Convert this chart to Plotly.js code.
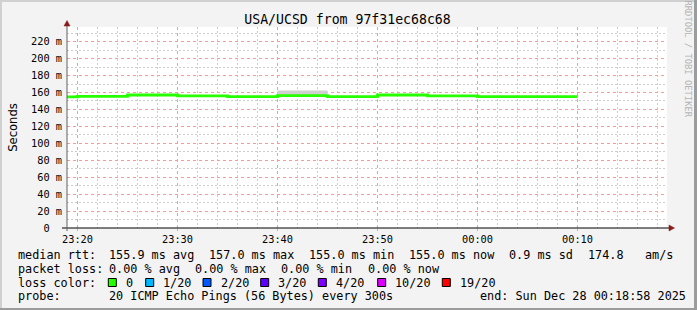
<!DOCTYPE html>
<html>
<head>
<meta charset="utf-8">
<script src="https://cdn.plot.ly/plotly-3.0.1.min.js"></script>
<style>html,body{margin:0;padding:0;background:#f3f3f3;}#chart{width:697px;height:310px;}</style>
</head>
<body>
<div id="chart"></div>
<script>
// ---- data (median rtt in ms, 300 s steps; each value starts at its time) ----
const stepTimes = ["2025-12-27 23:15:00","2025-12-27 23:20:00","2025-12-27 23:25:00","2025-12-27 23:30:00",
  "2025-12-27 23:35:00","2025-12-27 23:40:00","2025-12-27 23:45:00","2025-12-27 23:50:00",
  "2025-12-27 23:55:00","2025-12-28 00:00:00","2025-12-28 00:05:00","2025-12-28 00:10:00"];
const medianRtt = [154.9, 155.5, 157.0, 156.0, 155.1, 156.3, 155.2, 157.0, 156.0, 155.0, 155.0, 155.0];
const smokeLow  = [154.5, 155.0, 156.6, 155.3, 154.7, 155.8, 154.8, 156.6, 155.3, 154.6, 154.6, 154.6];
const smokeHigh = [155.3, 156.0, 157.4, 156.8, 155.5, 162.2, 155.6, 157.4, 156.8, 155.4, 155.4, 155.4];
const xRange = ["2025-12-27 23:18:57", "2025-12-28 00:18:57"];
const xTickVals = ["2025-12-27 23:20:00","2025-12-27 23:30:00","2025-12-27 23:40:00","2025-12-27 23:50:00",
  "2025-12-28 00:00:00","2025-12-28 00:10:00"];
const xTickText = ["23:20","23:30","23:40","23:50","00:00","00:10"];
const xMinorMinutes = ["23:22","23:24","23:26","23:28","23:32","23:34","23:36","23:38","23:42","23:44","23:46","23:48",
  "23:52","23:54","23:56","23:58","00:02","00:04","00:06","00:08","00:12","00:14","00:16","00:18"];
const yTickVals = [0, 20, 40, 60, 80, 100, 120, 140, 160, 180, 200, 220];
const yTickText = ["0\u00a0\u00a0", "20 m", "40 m", "60 m", "80 m", "100 m", "120 m", "140 m", "160 m", "180 m", "200 m", "220 m"];
const yMinorVals = [10, 30, 50, 70, 90, 110, 130, 150, 170, 190, 210, 230];
const lossLabels = ["0", "1/20", "2/20", "3/20", "4/20", "10/20", "19/20"];
const lossColors = ["#26ff00", "#00b8ff", "#0059ff", "#5e00ff", "#7e00ff", "#dd00ff", "#ff0000"];
const statsRtt = ["155.9 ms avg", "157.0 ms max", "155.0 ms min", "155.0 ms now", "0.9 ms sd", "174.8", "am/s"];
const statsLoss = ["0.00 % avg", "0.00 % max", "0.00 % min", "0.00 % now"];
const probeText = "20 ICMP Echo Pings (56 Bytes) every 300s";
const endText = "end: Sun Dec 28 00:18:58 2025";
const titleText = "USA/UCSD from 97f31ec68c68";

const xMinorVals = xMinorMinutes.map(m => (m.startsWith("23") ? "2025-12-27 " : "2025-12-28 ") + m + ":00");

// ---- layout helpers (pixel -> paper) ----
const L = 67, T = 27, W = 600, H = 201;
const X = p => (p - L) / W;
const Y = p => (T + H - p) / H;
const MONO = "DejaVu Sans Mono";

const traces = [
  {x: stepTimes, y: smokeLow, type: "scatter", mode: "lines", line: {shape: "hv", width: 0, color: "#cccccc"}, hoverinfo: "skip", showlegend: false},
  {x: stepTimes, y: smokeHigh, type: "scatter", mode: "lines", fill: "tonexty", fillcolor: "#cfcfcf", line: {shape: "hv", width: 0, color: "#cccccc"}, hoverinfo: "skip", showlegend: false},
  {x: stepTimes, y: medianRtt, type: "scatter", mode: "lines", line: {shape: "hv", width: 2.8, color: lossColors[0]}, showlegend: false}
];

const ann = [];
const shapes = [];
function txt(px, py, s, opts) {
  ann.push(Object.assign({xref: "paper", yref: "paper", x: X(px), y: Y(py), text: s, showarrow: false,
    xanchor: "left", yanchor: "middle", font: {family: MONO, size: 11.8, color: "#000"}}, opts || {}));
}
// legend lines
txt(16, 254.5, "median rtt:");
[107.3, 207.3, 306.7, 407.3, 507.3, 586, 642.7].forEach((x, i) => txt(x, 254.5, statsRtt[i]));
txt(16, 268.5, "packet loss:");
[107.3, 193.3, 279.3, 366].forEach((x, i) => txt(x, 268.5, statsLoss[i]));
txt(16, 282.5, "loss color:");
const boxX = [108.3, 145.7, 203, 260.7, 318.3, 377.7, 442.3];
boxX.forEach((x, i) => {
  shapes.push({type: "rect", xref: "paper", yref: "paper", x0: X(x), x1: X(x + 8), y0: Y(278.5), y1: Y(286.5),
    fillcolor: lossColors[i], line: {color: "#000", width: 1}});
  txt(x + 15.5, 282.5, lossLabels[i]);
});
txt(16, 296, "probe:");
txt(107.3, 296, probeText);
txt(478.3, 296, endText);
// watermark
ann.push({xref: "paper", yref: "paper", x: X(687.5), y: Y(59), text: "RRDTOOL / TOBI OETIKER", textangle: 90,
  showarrow: false, xanchor: "center", yanchor: "middle", font: {family: MONO, size: 8.8, color: "#b4b4b4"}});

// frame
shapes.push({type: "rect", xref: "paper", yref: "paper", x0: X(0), x1: X(697), y0: Y(0), y1: Y(2), fillcolor: "#d0d0d0", line: {width: 0}, layer: "below"});
shapes.push({type: "rect", xref: "paper", yref: "paper", x0: X(0), x1: X(2), y0: Y(0), y1: Y(310), fillcolor: "#d0d0d0", line: {width: 0}, layer: "below"});
shapes.push({type: "rect", xref: "paper", yref: "paper", x0: X(694), x1: X(697), y0: Y(0), y1: Y(310), fillcolor: "#9c9c9c", line: {width: 0}, layer: "below"});
shapes.push({type: "rect", xref: "paper", yref: "paper", x0: X(0), x1: X(697), y0: Y(308), y1: Y(310), fillcolor: "#9c9c9c", line: {width: 0}, layer: "below"});
// axes lines and arrows
shapes.push({type: "line", xref: "paper", yref: "paper", x0: X(62), x1: X(670), y0: Y(228), y1: Y(228), line: {color: "#000", width: 1}});
shapes.push({type: "line", xref: "paper", yref: "paper", x0: X(67), x1: X(67), y0: Y(231), y1: Y(24), line: {color: "#606060", width: 1}});
shapes.push({type: "path", xref: "paper", yref: "paper",
  path: `M ${X(64)} ${Y(26)} L ${X(70)} ${Y(26)} L ${X(67)} ${Y(20.5)} Z`, fillcolor: "#8b1a1a", line: {color: "#8b1a1a", width: 0.5}});
shapes.push({type: "path", xref: "paper", yref: "paper",
  path: `M ${X(669)} ${Y(225)} L ${X(669)} ${Y(231)} L ${X(674.5)} ${Y(228)} Z`, fillcolor: "#8b1a1a", line: {color: "#8b1a1a", width: 0.5}});

const majorGrid = "#f29c9c";
const minorGrid = "#cccccc";
const layout = {
  width: 697, height: 310,
  margin: {l: L, r: 697 - L - W, t: T, b: 310 - T - H, pad: 0},
  paper_bgcolor: "#f3f3f3", plot_bgcolor: "#ffffff",
  showlegend: false,
  title: {text: titleText, x: 0.4986, xanchor: "center", y: 1 - 19.5 / 310, yanchor: "middle",
    font: {family: MONO, size: 13.2, color: "#000"}},
  xaxis: {type: "date", range: xRange, tickmode: "array", tickvals: xTickVals, ticktext: xTickText,
    showgrid: true, gridcolor: majorGrid, griddash: "dot", gridwidth: 1,
    minor: {tickmode: "array", tickvals: xMinorVals, showgrid: true, gridcolor: minorGrid, griddash: "2px,2px", gridwidth: 1},
    zeroline: false, showline: false, ticks: "outside", ticklen: 2, tickcolor: majorGrid,
    tickfont: {family: MONO, size: 10.3, color: "#000"}, fixedrange: true},
  yaxis: {range: [0, 237.3], tickmode: "array", tickvals: yTickVals, ticktext: yTickText,
    showgrid: true, gridcolor: majorGrid, griddash: "dot", gridwidth: 1,
    minor: {tickmode: "array", tickvals: yMinorVals, showgrid: true, gridcolor: minorGrid, griddash: "2px,2px", gridwidth: 1},
    zeroline: false, showline: false, ticks: "", ticklabelstandoff: 4,
    tickfont: {family: MONO, size: 10.3, color: "#000"},
    title: {text: "Seconds", standoff: 10, font: {family: "DejaVu Sans", size: 11.6, color: "#000"}}, fixedrange: true},
  annotations: ann,
  shapes: shapes
};
Plotly.newPlot("chart", traces, layout, {staticPlot: true, displayModeBar: false});
</script>
</body>
</html>
